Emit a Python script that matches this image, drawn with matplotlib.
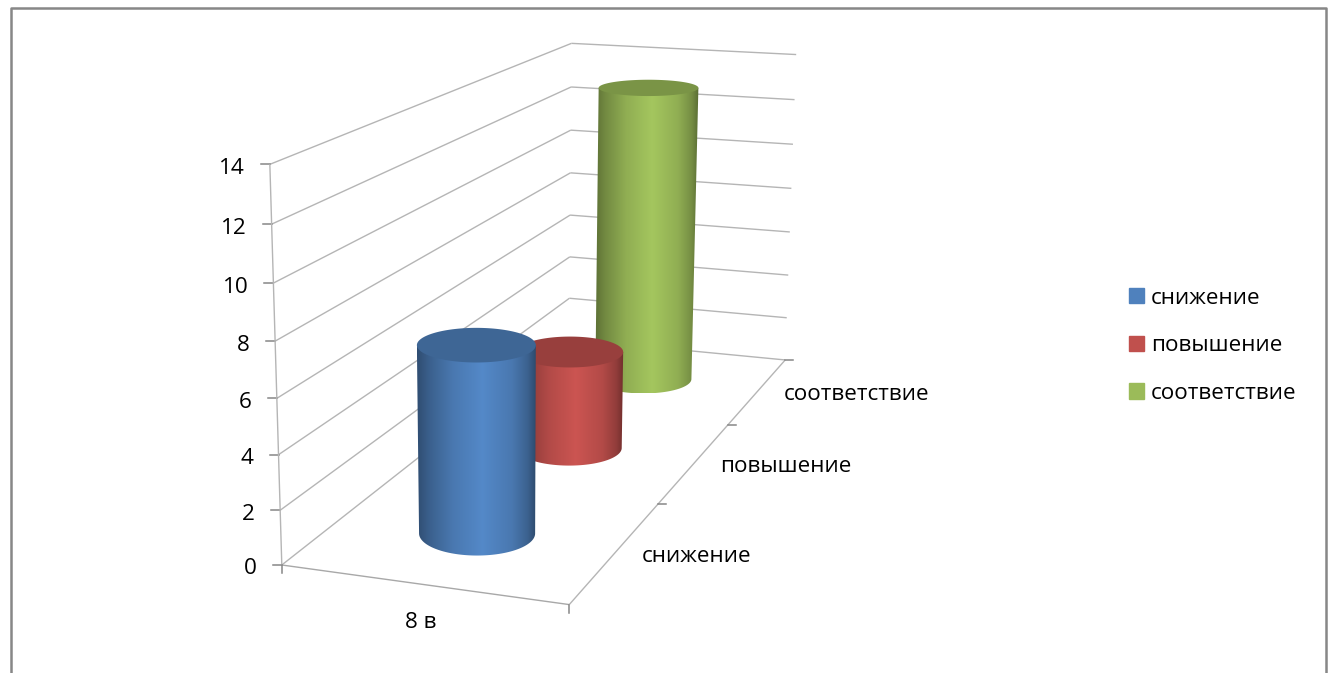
import matplotlib
matplotlib.use("Agg")
import matplotlib.pyplot as plt
import numpy as np
from matplotlib.colors import LinearSegmentedColormap
from matplotlib.patches import Patch, Polygon

plt.rcParams['font.family'] = ['Open Sans', 'DejaVu Sans']

series = ["снижение", "повышение", "соответствие"]
values = [7, 4, 13]
colors = ["#4F81BD", "#C0504D", "#9BBB59"]
category = "8 в"
y_ticks = [0, 2, 4, 6, 8, 10, 12, 14]

FS = 16.2
GRID = "#b5b5b5"
TICK = "#868686"
BORDER = "#878787"

# camera of the 3D box: (across, depth, value) -> pixel, fitted on its corners
corners = [
    ((0, 0, 0), (281.7, 565)), ((1, 0, 0), (567, 604)),
    ((0, 1, 0), (569, 339)), ((1, 1, 0), (784, 360)),
    ((0, 0, 14), (270, 165)), ((0, 1, 14), (572, 43)),
    ((1, 1, 14), (796, 54)), ((1, 1 / 3, 0), (660, 504)),
    ((1, 2 / 3, 0), (730, 425)), ((0, 1, 8), (570, 173)),
    ((0, 0, 8), (275, 341)), ((1, 1, 8), (791, 189)),
]
rows = []
rhs = []
for (a, b, c), (px, py) in corners:
    rows.append([a, b, c, 1, 0, 0, 0, 0, -px * a, -px * b, -px * c])
    rows.append([0, 0, 0, 0, a, b, c, 1, -py * a, -py * b, -py * c])
    rhs += [px, py]
cam = np.append(np.linalg.lstsq(np.array(rows, float), np.array(rhs, float), rcond=None)[0], 1).reshape(3, 4)


def proj(a, b, c):
    a, b, c = np.broadcast_arrays(a, b, c)
    p = cam @ np.vstack([a.ravel(), b.ravel(), c.ravel(), np.ones(a.size)])
    return p[0] / p[2], p[1] / p[2]


def line3d(ax, p, q, color=GRID, lw=1.0, z=1):
    x, y = proj([p[0], q[0]], [p[1], q[1]], [p[2], q[2]])
    ax.plot(x, y, color=color, lw=lw, zorder=z, solid_capstyle="butt")


def shade(base, f):
    return tuple(min(1, v * f) for v in matplotlib.colors.to_rgb(base))


def ellipse(v, val):
    # level ellipse: the picture keeps them flat, not tilted with the floor
    t = np.linspace(0, 2 * np.pi, 200)
    xs, _ = proj([0.5 - 0.213, 0.5 + 0.213], [v, v], [val, val])
    _, ys = proj([0.5, 0.5], [v - 0.077, v + 0.077], [val, val])
    cx, cy = proj(0.5, v, val)
    return cx[0] + (xs[1] - xs[0]) / 2 * np.cos(t), cy[0] + (ys[1] - ys[0]) / 2 * np.sin(t)


def cylinder(ax, v, val, color, z):
    xb, yb = ellipse(v, 0)
    xt, yt = ellipse(v, val)
    # side: from the top's extremes down around the front of the base
    front = yb >= yb[0]
    order = np.argsort(-xb[front])
    side = np.vstack([[xt.min(), yt[0]], [xt.max(), yt[0]], np.c_[xb[front][order], yb[front][order]]])
    cmap = LinearSegmentedColormap.from_list("c", [
        (0, shade(color, .6)), (.1, shade(color, .74)), (.3, shade(color, .93)),
        (.55, shade(color, 1.06)), (.8, shade(color, .93)), (.93, shade(color, .76)), (1, shade(color, .58))])
    x0, x1 = side[:, 0].min(), side[:, 0].max()
    im = ax.imshow(np.linspace(0, 1, 256)[None, :], cmap=cmap, aspect="auto", zorder=z,
                   extent=[x0, x1, side[:, 1].max(), side[:, 1].min()], interpolation="bilinear")
    im.set_clip_path(Polygon(side, transform=ax.transData))
    ax.fill(xt, yt, color=shade(color, .79), lw=0, zorder=z + .5)


fig = plt.figure(figsize=(13.38, 6.73), dpi=100)
ax = fig.add_axes([0, 0, 1, 1])

for val in y_ticks:
    line3d(ax, (0, 0, val), (0, 1, val))
    line3d(ax, (0, 1, val), (1, 1, val))
    x, y = proj(0, 0, val)
    ax.plot([x[0] - 9, x[0]], [y[0], y[0]], color=TICK, lw=1.1, zorder=1)
    ax.text(x[0] - 25, y[0] + 4, str(val), ha="right", va="center", fontsize=FS, color="black")

line3d(ax, (0, 0, 0), (0, 0, 14))
line3d(ax, (0, 0, 0), (1, 0, 0), color="#a8a8a8")
line3d(ax, (1, 0, 0), (1, 1, 0))

for a in [0, 1]:
    x, y = proj(a, 0, 0)
    ax.plot([x[0], x[0]], [y[0], y[0] + 8], color=TICK, lw=1.1, zorder=1)
for b in [1 / 3, 2 / 3, 1]:
    x, y = proj(1, b, 0)
    ax.plot([x[0], x[0] + 8], [y[0], y[0]], color=TICK, lw=1.1, zorder=1)

ax.text(421, 623, category, ha="center", va="center", fontsize=FS)
label_pos = [(697, 556), (786, 467), (857, 395)]
for name, (px, py) in zip(series, label_pos):
    ax.text(px, py, name, ha="center", va="center", fontsize=FS)

# back to front so the nearer cylinders cover the others
for i in [2, 1, 0]:
    cylinder(ax, (i + 0.5) / 3, values[i], colors[i], 3 + (2 - i))

ax.legend(handles=[Patch(color=c, label=s) for c, s in zip(colors, series)],
          loc="upper left", bbox_to_anchor=(1124, 283), bbox_transform=ax.transData,
          frameon=False, fontsize=FS, handlelength=0.68, handleheight=0.68,
          handletextpad=0.32, labelspacing=1.19, borderpad=0.2, borderaxespad=0)

ax.plot([10.5, 10.5, 1325.5, 1325.5], [673, 8, 8, 673], color=BORDER, lw=1.8, zorder=6)

ax.set_xlim(0, 1338)
ax.set_ylim(673, 0)
ax.axis("off")
fig.savefig("out.png", dpi=100)
